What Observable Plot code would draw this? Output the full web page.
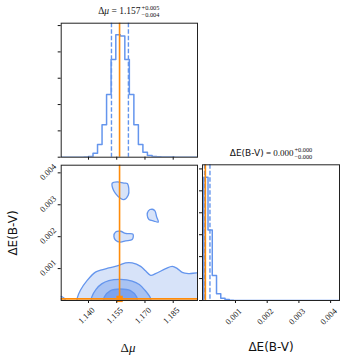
<!DOCTYPE html>
<html><head><meta charset="utf-8">
<script src="https://cdn.jsdelivr.net/npm/d3@7"></script>
<script src="https://cdn.jsdelivr.net/npm/@observablehq/plot@0.6"></script>
<style>
html,body{margin:0;padding:0;background:#fff;}
#wrap{position:relative;width:349px;height:361px;overflow:hidden;background:#fff;}
#wrap svg{position:absolute;left:0;top:0;background:transparent;}
.lbl{position:absolute;white-space:nowrap;color:#111;line-height:1;transform:translate(-50%,-50%);}
.m{font-family:"Liberation Serif","DejaVu Serif",serif;}
.ss{display:inline-flex;flex-direction:column;vertical-align:middle;font-size:6.3px;line-height:1.05;margin-left:1px;}
</style></head><body><div id="wrap"></div>
<script>
// ---------- data ----------
const muTicks = [1.140, 1.155, 1.170, 1.185];
const muTickLabels = ["1.140", "1.155", "1.170", "1.185"];
const eTicks = [0.001, 0.002, 0.003, 0.004];
const eTickLabels = ["0.001", "0.002", "0.003", "0.004"];
const muCountTicks = [0, 1000, 2000, 3000, 4000, 5000];
const eCountTicks = [0, 2000, 4000, 6000, 8000, 10000, 12000];

const truthMu = 1.1565;
const truthE = 0.00005;
const muQuantiles = [1.1522, 1.1612];
const eQuantiles = [0.000025, 0.000195];

// top histogram (Δμ), 30 bins
const muBinEdges = [1.1255, 1.1279, 1.1303, 1.1327, 1.1352, 1.1376, 1.1400, 1.1424, 1.1448, 1.1472,
  1.1496, 1.1520, 1.1545, 1.1569, 1.1593, 1.1617, 1.1641, 1.1665, 1.1689, 1.1713, 1.1738,
  1.1762, 1.1786, 1.1810, 1.1834, 1.1858, 1.1882, 1.1906, 1.1931, 1.1955, 1.1979];
const muCounts = [0, 0, 0, 0, 0, 5, 27, 150, 480, 1230, 2380, 3710, 4650, 4600, 3710, 2380,
  1230, 480, 190, 65, 25, 15, 10, 5, 3, 0, 0, 0, 0, 0];

// right histogram (ΔE(B-V))
const eBinEdges = [0, 0.000134, 0.000268, 0.000402, 0.000536, 0.00067, 0.000804, 0.000938, 0.001072, 0.00428];
const eCounts = [11250, 6440, 2280, 610, 210, 90, 30, 10, 0];

// 2D contours (Δμ, ΔE(B-V))
const contourOuter = [[1.1330, -0.0003], [1.1338, 0.0], [1.1341, 0.00009], [1.1357, 0.00032], [1.1393, 0.00063],
  [1.1437, 0.00089], [1.1464, 0.00095], [1.1508, 0.00102], [1.1561, 0.00110], [1.1597, 0.00118],
  [1.1632, 0.00118], [1.1677, 0.00107], [1.1703, 0.00093], [1.1730, 0.00079], [1.1756, 0.00084],
  [1.1810, 0.00100], [1.1845, 0.00107], [1.1872, 0.00100], [1.1898, 0.00088], [1.1934, 0.00084],
  [1.1990, 0.00084], [1.1990, -0.0003]];
const contourMiddle = [[1.1408, -0.0003], [1.1413, 0.0], [1.1418, 0.00012], [1.1440, 0.00035], [1.1470, 0.00052],
  [1.1508, 0.00062], [1.1570, 0.00066], [1.1632, 0.00061], [1.1670, 0.00050], [1.1700, 0.00032],
  [1.1728, 0.00009], [1.1732, 0.0], [1.1735, -0.0003]];
const contourInner = [[1.1476, -0.0003], [1.1479, 0.0], [1.1485, 0.00012], [1.1517, 0.00031], [1.1570, 0.00036],
  [1.1623, 0.00031], [1.1655, 0.00012], [1.1660, 0.0], [1.1663, -0.0003]];
const blobTop = [[1.1526, 0.00368], [1.1553, 0.00372], [1.1588, 0.00368], [1.1606, 0.00367], [1.1614, 0.00351],
  [1.1611, 0.00330], [1.1588, 0.00316], [1.1570, 0.00320], [1.1544, 0.00335], [1.1529, 0.00351]];
const blobRight = [[1.1718, 0.00281], [1.1739, 0.00286], [1.1753, 0.00281], [1.1762, 0.00262], [1.1771, 0.00246],
  [1.1747, 0.00249], [1.1721, 0.00254], [1.1712, 0.00267]];
const blobMiddle = [[1.1544, 0.00215], [1.1570, 0.00217], [1.1597, 0.00210], [1.1636, 0.00208], [1.1632, 0.00191],
  [1.1597, 0.00187], [1.1570, 0.00183], [1.1544, 0.00189], [1.1535, 0.00201]];
const blobCorner = [[1.1245, 0.00012], [1.1262, 0.00011], [1.1274, 0.00005], [1.1279, -0.0002], [1.1245, -0.0002]];

// ---------- styling ----------
const W = 349, H = 361;
const blue = "#6495ed", orange = "#ff8c0a";
const fillOuter = "#d7e3f9", fillMiddle = "#a9c3f3", fillInner = "#7ca3ee";
const muDomain = [1.1255, 1.1979];
const eDomain2D = [0, 0.00424];
const eDomainHist = [-0.00004, 0.00428];
const tickFont = "Liberation Serif, DejaVu Serif, serif";
const axisColor = "#111";

function stepPoints(edges, counts) {
  const pts = [{x: edges[0], y: 0}];
  counts.forEach((c, i) => pts.push({x: edges[i], y: c}));
  pts.push({x: edges[edges.length - 1], y: counts[counts.length - 1]});
  return pts;
}
const poly = (arr) => arr.map(([x, y]) => ({x, y}));
const frame = () => Plot.frame({stroke: "#222", strokeWidth: 1});
const common = {width: W, height: H, style: {background: "transparent", overflow: "visible"}};

// Panel 1: top histogram
const p1 = Plot.plot({
  ...common,
  marginLeft: 60.7, marginRight: 152, marginTop: 22.7, marginBottom: 204.3,
  x: {domain: muDomain},
  y: {domain: [0, 5090]},
  marks: [
    Plot.line(stepPoints(muBinEdges, muCounts), {x: "x", y: "y", curve: "step-after", stroke: blue, strokeWidth: 1.5, clip: true}),
    Plot.ruleX(muQuantiles, {stroke: blue, strokeWidth: 1.4, strokeDasharray: "4.5,2"}),
    Plot.ruleX([truthMu], {stroke: orange, strokeWidth: 1.6}),
    Plot.axisX({ticks: muTicks, tickSize: 3, tickFormat: () => "", label: null, color: axisColor}),
    Plot.axisY({ticks: muCountTicks, tickSize: 3, tickFormat: () => "", label: null, color: axisColor}),
    frame()
  ]
});

// Panel 2: 2D contours
const c2 = (data, fill) => Plot.line(poly(data), {x: "x", y: "y", curve: "catmull-rom-closed", fill, stroke: blue, strokeWidth: 1.3, clip: true});
const p2 = Plot.plot({
  ...common,
  marginLeft: 60.7, marginRight: 152, marginTop: 164.7, marginBottom: 61,
  x: {domain: muDomain},
  y: {domain: eDomain2D},
  marks: [
    c2(contourOuter, fillOuter),
    c2(contourMiddle, fillMiddle),
    c2(contourInner, fillInner),
    c2(blobTop, fillOuter),
    c2(blobRight, fillOuter),
    c2(blobMiddle, fillOuter),
    c2(blobCorner, fillOuter),
    Plot.ruleX([truthMu], {stroke: orange, strokeWidth: 1.6}),
    Plot.ruleY([truthE], {stroke: orange, strokeWidth: 1.6}),
    Plot.dot([{x: truthMu, y: truthE}], {x: "x", y: "y", symbol: "square", r: 3.6, fill: orange, stroke: "none"}),
    Plot.axisX({ticks: muTicks, tickSize: 3, tickFormat: () => "", label: null, color: axisColor}),
    Plot.axisY({ticks: eTicks, tickSize: 3, tickFormat: () => "", label: null, color: axisColor}),
    Plot.text(muTicks, {x: d => d, text: (d, i) => muTickLabels[i], frameAnchor: "bottom", dy: 17, rotate: -45, fontSize: 8.5, fontFamily: tickFont, fill: axisColor}),
    Plot.text(eTicks, {y: d => d, text: (d, i) => eTickLabels[i], frameAnchor: "left", dx: -20, dy: 6, rotate: -45, fontSize: 8.5, fontFamily: tickFont, fill: axisColor}),
    frame()
  ]
});

// Panel 3: right histogram
const p3 = Plot.plot({
  ...common,
  marginLeft: 202, marginRight: 10, marginTop: 164.3, marginBottom: 61,
  x: {domain: eDomainHist},
  y: {domain: [0, 12375]},
  marks: [
    Plot.line(stepPoints(eBinEdges, eCounts), {x: "x", y: "y", curve: "step-after", stroke: blue, strokeWidth: 1.5, clip: true}),
    Plot.ruleX(eQuantiles, {stroke: blue, strokeWidth: 1.4, strokeDasharray: "4.5,2"}),
    Plot.ruleX([truthE], {stroke: orange, strokeWidth: 1.6}),
    Plot.axisX({ticks: eTicks, tickSize: 3, tickFormat: () => "", label: null, color: axisColor}),
    Plot.axisY({ticks: eCountTicks, tickSize: 3, tickFormat: () => "", label: null, color: axisColor}),
    Plot.text(eTicks, {x: d => d, text: (d, i) => eTickLabels[i], frameAnchor: "bottom", dy: 18, rotate: -45, fontSize: 8.5, fontFamily: tickFont, fill: axisColor}),
    frame()
  ]
});

const wrap = document.getElementById("wrap");
[p1, p2, p3].forEach(p => wrap.appendChild(p));

function addLabel(html, x, y, css) {
  const d = document.createElement("div");
  d.className = "lbl";
  d.innerHTML = html;
  d.style.left = x + "px";
  d.style.top = y + "px";
  Object.assign(d.style, css || {});
  wrap.appendChild(d);
}
addLabel('<span class="m">Δ<i>μ</i> = 1.157</span><span class="ss m"><span>+0.005</span><span>−0.004</span></span>',
  128.8, 12, {fontSize: "9.5px"});
addLabel('<span style="font-family:DejaVu Sans">ΔE(B-V)</span><span class="m"> = 0.000</span><span class="ss m"><span>+0.000</span><span>−0.000</span></span>',
  271, 154, {fontSize: "9px"});
addLabel('<span class="m">Δ<i>μ</i></span>', 128, 347, {fontSize: "13px"});
addLabel('ΔE(B-V)', 271, 347, {fontSize: "12px", fontFamily: "DejaVu Sans"});
addLabel('ΔE(B-V)', 13, 232.5, {fontSize: "12px", fontFamily: "DejaVu Sans", transform: "translate(-50%,-50%) rotate(-90deg)"});
</script></body></html>
